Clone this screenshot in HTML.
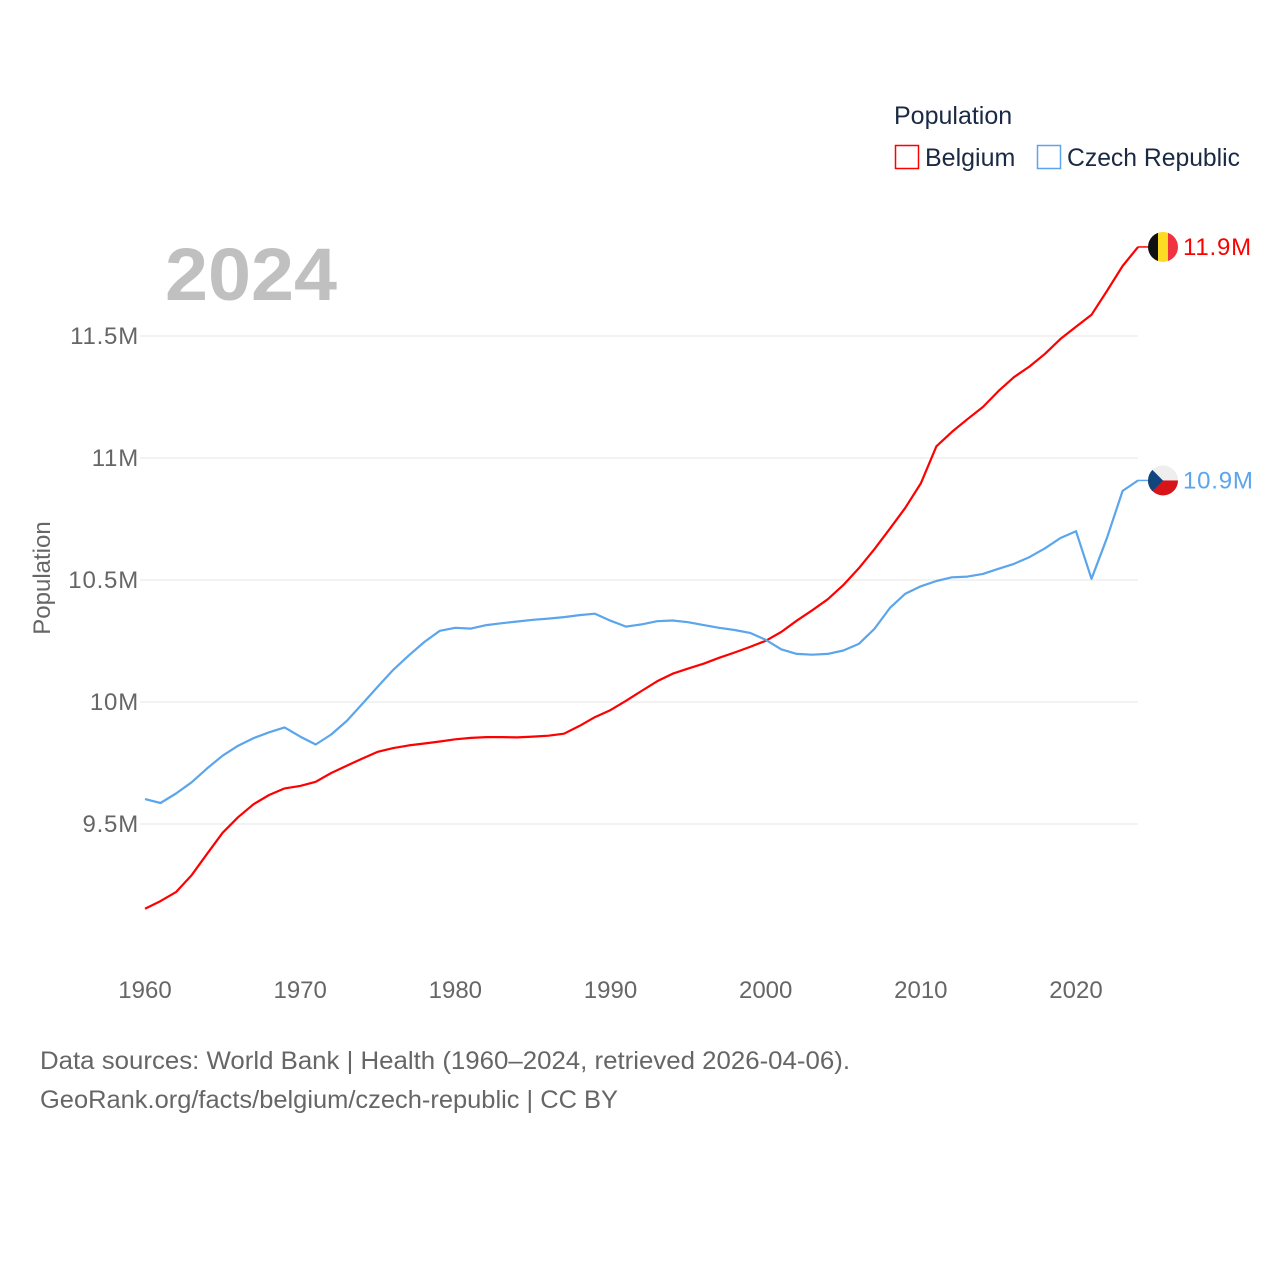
<!DOCTYPE html>
<html><head><meta charset="utf-8"><style>
html,body{margin:0;padding:0;background:#fff;}
svg{display:block;font-family:"Liberation Sans",sans-serif;}
</style></head><body>
<svg id="chart" width="1280" height="1280" viewBox="0 0 1280 1280">
  <g id="grid"></g>
  <g id="yticks"></g>
  <g id="xticks"></g>
  <text x="165" y="300" font-size="74" font-weight="bold" fill="#c0c0c0" textLength="172" lengthAdjust="spacingAndGlyphs">2024</text>
  <text transform="translate(50,578) rotate(-90)" text-anchor="middle" font-size="24" fill="#666">Population</text>
  <g id="series"></g>
  <g>
    <text x="894" y="124" font-size="25" fill="#1a2a44">Population</text>
    <g>
      <rect x="895.5" y="145.5" width="23" height="23" fill="none" stroke="#ff0000" stroke-width="1.5"/>
      <text x="925" y="166" font-size="25" fill="#1a2a44">Belgium</text>
    </g>
    <g>
      <rect x="1037.5" y="145.5" width="23" height="23" fill="none" stroke="#5aa5ec" stroke-width="1.5"/>
      <text x="1067" y="166" font-size="25" fill="#1a2a44" textLength="173" lengthAdjust="spacingAndGlyphs">Czech Republic</text>
    </g>
  </g>
  <g id="endlabels"></g>
  <text x="40" y="1069" font-size="25" fill="#666" textLength="810" lengthAdjust="spacingAndGlyphs">Data sources: World Bank | Health (1960–2024, retrieved 2026-04-06).</text>
  <text x="40" y="1108" font-size="25" fill="#666" textLength="578" lengthAdjust="spacingAndGlyphs">GeoRank.org/facts/belgium/czech-republic | CC BY</text>
</svg>
<script>
const years = [];
for (let y = 1960; y <= 2024; y++) years.push(y);
const belgium = [9.153,9.184,9.221,9.290,9.378,9.464,9.528,9.581,9.619,9.646,9.656,9.673,9.709,9.739,9.768,9.796,9.811,9.822,9.830,9.838,9.847,9.853,9.856,9.856,9.855,9.858,9.862,9.870,9.902,9.938,9.967,10.005,10.045,10.085,10.116,10.137,10.157,10.181,10.203,10.226,10.251,10.287,10.333,10.376,10.421,10.479,10.548,10.626,10.710,10.796,10.896,11.048,11.107,11.159,11.209,11.274,11.331,11.375,11.427,11.488,11.538,11.587,11.685,11.787,11.865];
const czech = [9.602,9.586,9.625,9.671,9.728,9.780,9.821,9.852,9.876,9.896,9.858,9.826,9.867,9.922,9.992,10.063,10.132,10.191,10.246,10.292,10.304,10.301,10.315,10.323,10.330,10.337,10.342,10.348,10.356,10.362,10.333,10.309,10.318,10.331,10.334,10.327,10.315,10.304,10.295,10.283,10.255,10.216,10.197,10.194,10.197,10.211,10.238,10.299,10.385,10.444,10.474,10.496,10.511,10.514,10.525,10.546,10.566,10.594,10.630,10.672,10.700,10.505,10.673,10.865,10.908];
const yTickValues = [9.5,10,10.5,11,11.5];
const yTickLabels = ["9.5M","10M","10.5M","11M","11.5M"];
const xTickValues = [1960,1970,1980,1990,2000,2010,2020];

const NS = "http://www.w3.org/2000/svg";
const xs = yr => 145 + (yr - 1960) * (931 / 60);
const ys = v => 702 - (v - 10) * 244;
function mk(tag, attrs, parent) {
  const e = document.createElementNS(NS, tag);
  for (const k in attrs) e.setAttribute(k, attrs[k]);
  parent.appendChild(e); return e;
}
const grid = document.getElementById('grid'), yt = document.getElementById('yticks'), xt = document.getElementById('xticks');
yTickValues.forEach((v, i) => {
  const l = mk('line', {x1: 140, x2: 1138, y1: ys(v), y2: ys(v), stroke: '#e6e6e6', 'stroke-width': 1}, grid);
  
  
  const t = mk('text', {x: 139, y: ys(v) + 8, 'text-anchor': 'end', 'font-size': 24, fill: '#666', 'letter-spacing': 0.8}, yt);
  t.textContent = yTickLabels[i];
  
  
});
xTickValues.forEach(v => {
  const t = mk('text', {x: xs(v), y: 998, 'text-anchor': 'middle', 'font-size': 24, fill: '#666'}, xt);
  t.textContent = v;
  
  
});
const series = document.getElementById('series');
function line(data, color, name) {
  const d = data.map((v, i) => (i ? 'L' : 'M') + xs(years[i]).toFixed(1) + ',' + ys(v).toFixed(1)).join('');
  const p = mk('path', {d: d, fill: 'none', stroke: color, 'stroke-width': 2.2, 'stroke-linejoin': 'round'}, series);
  
  
}
line(belgium, '#ff0000', 'belgium-line');
line(czech, '#5aa5ec', 'czech-republic-line');

const el = document.getElementById('endlabels');
function endLabel(data, color, name, flag) {
  const v = data[data.length - 1], x = xs(years[years.length - 1]), y = ys(v);
  const g = mk('g', {}, el);
  
  
  mk('line', {x1: x, x2: 1148, y1: y, y2: y, stroke: color, 'stroke-width': 1.5}, g);
  const cx = 1163, r = 15;
  const cp = 'clip-' + name;
  const c = mk('clipPath', {id: cp}, g); mk('circle', {cx: cx, cy: y, r: r}, c);
  const fg = mk('g', {'clip-path': 'url(#' + cp + ')'}, g);
  if (flag === 'be') {
    mk('rect', {x: cx - r, y: y - r, width: 10, height: 30, fill: '#111'}, fg);
    mk('rect', {x: cx - 5, y: y - r, width: 10, height: 30, fill: '#fdda24'}, fg);
    mk('rect', {x: cx + 5, y: y - r, width: 10, height: 30, fill: '#ef3340'}, fg);
  } else {
    mk('rect', {x: cx - r, y: y - r, width: 30, height: 15, fill: '#eeeeee'}, fg);
    mk('rect', {x: cx - r, y: y, width: 30, height: 15, fill: '#d7141a'}, fg);
    mk('polygon', {points: (cx - r) + ',' + (y - r) + ' ' + (cx) + ',' + y + ' ' + (cx - r) + ',' + (y + r), fill: '#11457e'}, fg);
  }
  const t = mk('text', {x: 1183, y: y + 8, 'font-size': 24, fill: color, 'letter-spacing': 0.8}, g);
  t.textContent = v.toFixed(1) + 'M';
}
endLabel(belgium, '#ff0000', 'belgium-end-label', 'be');
endLabel(czech, '#5aa5ec', 'czech-republic-end-label', 'cz');
</script>
</body></html>
